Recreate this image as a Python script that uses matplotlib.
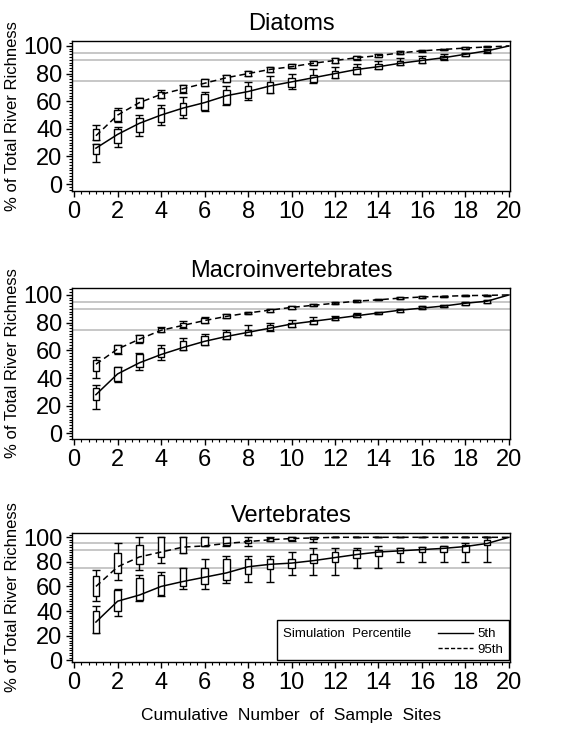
import matplotlib
matplotlib.use("Agg")
import matplotlib.pyplot as plt
import numpy as np
from matplotlib.patches import Rectangle
from matplotlib.lines import Line2D
from matplotlib.ticker import MultipleLocator

plt.rcParams['font.family'] = ['Liberation Sans', 'DejaVu Sans']

sites = list(range(1, 21))
box_sites = list(range(1, 20))

# ---- Diatoms ----
dia95_line = [35, 50, 59, 65, 69, 73, 77, 80, 83, 85, 87.5, 89.5, 91.5, 93, 95, 96.5, 97.5, 98.5, 99.3, 100]
dia95_box_lo = [32, 46, 56, 62, 67, 71, 74, 78, 81, 84, 86, 88, 90.5, 92, 94, 96, 97, 98, 99]
dia95_box_hi = [40, 54, 62, 67, 72, 76, 79, 82, 85, 87, 89, 91, 92.5, 94, 96, 97, 98, 99, 99.7]
dia95_wh_lo = [32, 45, 55, 62, 66, 71, 74, 78, 81, 84, 86, 88, 90, 92, 94, 95.5, 97, 98, 99]
dia95_wh_hi = [43, 55, 62, 68, 72, 76, 79, 82, 85, 87, 89, 91, 92.5, 94, 96, 97, 98, 99, 100]

dia5_line = [26, 36, 44, 50, 55, 59, 64, 67, 71, 74, 77, 80, 83, 85, 87.5, 89.5, 91.5, 94, 96.5, 100]
dia5_box_lo = [22, 30, 38, 45, 50, 54, 58, 62, 66, 70, 74, 77, 80, 83, 86, 88, 90.5, 93, 95.5]
dia5_box_hi = [29, 40, 48, 55, 59, 65, 68, 71, 74, 77, 79, 82, 85, 87, 89, 91, 93, 95, 97]
dia5_wh_lo = [16, 27, 35, 43, 48, 53, 57, 61, 66, 69, 73, 77, 80, 83, 86, 88, 90, 93, 95]
dia5_wh_hi = [29, 41, 50, 57, 63, 67, 71, 74, 78, 80, 83, 85, 87, 89, 91, 93, 94, 95, 97.5]

# ---- Macroinvertebrates ----
mac95_line = [50, 61, 68, 74.5, 78, 81.5, 84.5, 87, 89, 91, 92.5, 94, 95.5, 96.5, 97.7, 98.5, 99, 99.5, 99.7, 100]
mac95_box_lo = [45, 58, 66, 73, 77, 80, 83.5, 86, 88, 90, 92, 93.5, 95, 96, 97, 98, 98.5, 99, 99.5]
mac95_box_hi = [53, 64, 71, 76, 80, 83, 86, 88, 89.5, 92, 93.5, 95, 96.5, 97, 98.5, 99, 99.5, 100, 100]
mac95_wh_lo = [40, 57, 65, 73, 76, 80, 83, 86, 88, 90, 92, 93.5, 95, 96, 97, 98, 98.5, 99, 99.5]
mac95_wh_hi = [55, 64, 71, 77, 81, 84, 86, 88, 89.5, 92, 93.5, 95, 96.5, 97, 98.5, 99, 99.5, 100, 100]

mac5_line = [28, 43, 51, 57, 62, 66.5, 70, 73, 76, 79, 81, 83, 85, 87, 89, 90.5, 92, 94, 95.5, 100]
mac5_box_lo = [24, 38, 48, 55, 60, 64, 68, 71, 75, 77, 79, 82, 84, 86, 88, 90, 91, 93, 94.5]
mac5_box_hi = [33, 48, 57, 62, 67, 70, 73, 75, 78, 80, 82, 84, 86, 88, 90, 92, 93, 95, 96.5]
mac5_wh_lo = [18, 37, 46, 53, 60, 64, 68, 71, 74, 77, 79, 82, 84, 86, 88, 90, 91, 93, 94.5]
mac5_wh_hi = [35, 48, 58, 64, 69, 72, 75, 78, 80, 82, 84, 85, 87, 88, 90, 92, 93, 95, 96.5]

# ---- Vertebrates ----
ver95_line = [60, 76, 84, 88, 92, 93, 95, 96.5, 98, 99, 99.5, 100, 100, 100, 100, 100, 100, 100, 100, 100]
ver95_box_lo = [52, 71, 78, 84, 87.5, 93, 93.5, 95, 97, 97.5, 99, 100, 100, 100, 100, 100, 100, 100, 100]
ver95_box_hi = [68.5, 87.5, 94, 100, 100, 100, 100, 98, 99.5, 100, 100, 100, 100, 100, 100, 100, 100, 100, 100]
ver95_wh_lo = [48, 65, 73, 79, 87, 93, 93, 93, 97, 97, 96, 100, 100, 100, 100, 100, 100, 100, 100]
ver95_wh_hi = [73, 95, 100, 100, 100, 100, 100, 100, 100, 100, 100, 100, 100, 100, 100, 100, 100, 100, 100]

ver5_line = [31, 48, 53, 60, 64, 67.5, 71, 76, 78, 79, 81, 83.5, 86, 88, 89, 90, 91, 92.5, 95, 100]
ver5_box_lo = [22, 40, 49, 53, 60, 62, 65, 70, 74, 75, 79, 80, 83, 85, 87, 88, 88, 88, 94]
ver5_box_hi = [40, 57, 67, 69, 75, 75, 82, 82, 82, 82, 86, 88, 90, 90, 91, 92, 93, 94, 98]
ver5_wh_lo = [22, 36, 48, 52, 58, 58, 63, 64, 64, 69, 69, 69, 75, 75, 80, 80, 80, 80, 80]
ver5_wh_hi = [44, 58, 69, 72, 75, 82, 85, 85, 85, 88, 91, 91, 91, 93, 91, 92, 93, 95, 100]

ref_levels = [75, 90, 95]

panels = [
    ("Diatoms", (dia5_line, dia5_box_lo, dia5_box_hi, dia5_wh_lo, dia5_wh_hi),
     (dia95_line, dia95_box_lo, dia95_box_hi, dia95_wh_lo, dia95_wh_hi), (-5, 103.6)),
    ("Macroinvertebrates", (mac5_line, mac5_box_lo, mac5_box_hi, mac5_wh_lo, mac5_wh_hi),
     (mac95_line, mac95_box_lo, mac95_box_hi, mac95_wh_lo, mac95_wh_hi), (-4, 105)),
    ("Vertebrates", (ver5_line, ver5_box_lo, ver5_box_hi, ver5_wh_lo, ver5_wh_hi),
     (ver95_line, ver95_box_lo, ver95_box_hi, ver95_wh_lo, ver95_wh_hi), (-1.5, 103.5)),
]

W, H = 583, 732
fig = plt.figure(figsize=(W / 100, H / 100), dpi=100)
rects_px = [(72, 41, 510, 191), (72, 288, 510, 439), (72, 533, 510, 662)]

for (title, s5, s95, ylim), (l, t, r, b) in zip(panels, rects_px):
    ax = fig.add_axes([l / W, 1 - b / H, (r - l) / W, (b - t) / H])
    for lev in ref_levels:
        ax.axhline(lev, color='#b8b8b8', lw=1.1, zorder=1)
    for series, ls in ((s5, '-'), (s95, (0, (4, 2.5)))):
        line, blo, bhi, wlo, whi = series
        blo = np.array(blo); bhi = np.array(bhi)
        wlo = np.array(wlo); whi = np.array(whi)
        mid = (blo + bhi) / 2
        ax.errorbar(box_sites, mid, yerr=[mid - wlo, whi - mid], fmt='none',
                    ecolor='black', elinewidth=1.0, capsize=3, capthick=1.0, zorder=2)
        ax.bar(box_sites, bhi - blo, bottom=blo, width=0.3, facecolor='white',
               edgecolor='black', linewidth=1.0, zorder=3)
        ax.plot(sites, line, color='black', lw=1.1, ls=ls, zorder=4)
    ax.set_xlim(-0.1, 20.05)
    ax.set_ylim(*ylim)
    ax.set_xticks(range(0, 21, 2))
    ax.set_yticks(range(0, 101, 20))
    ax.xaxis.set_minor_locator(MultipleLocator(1 / 3))
    ax.yaxis.set_minor_locator(MultipleLocator(2))
    ax.tick_params(which='major', direction='out', length=4, width=1, labelsize=17, pad=3)
    ax.tick_params(which='minor', direction='out', length=2.5, width=0.8)
    for sp in ax.spines.values():
        sp.set_linewidth(1.0)
    ax.set_title(title, fontsize=17, pad=8)
    ax.set_ylabel('% of Total River Richness', fontsize=12)
    ax.yaxis.set_label_coords(-0.119, 0.5)

# legend on last axes
ax.add_patch(Rectangle((0.468, 0.016), 0.53, 0.31, transform=ax.transAxes,
                       facecolor='white', edgecolor='black', lw=1.0, zorder=6))
ax.text(0.482, 0.217, 'Simulation  Percentile', transform=ax.transAxes, fontsize=9.5,
        va='center', ha='left', zorder=7)
handles = [Line2D([], [], color='black', lw=1.0, ls='-'),
           Line2D([], [], color='black', lw=1.0, ls=(0, (3, 1.5)))]
leg = ax.legend(handles, ['5th', '95th'], loc='center left', bbox_to_anchor=(0.82, 0.155),
                frameon=False, fontsize=9.5, handlelength=2.7, handletextpad=0.3,
                labelspacing=0.25, borderpad=0)
leg.set_zorder(8)
ax.set_xlabel('Cumulative  Number  of  Sample  Sites', fontsize=12.5, labelpad=10)

fig.savefig('out.png', dpi=100)
